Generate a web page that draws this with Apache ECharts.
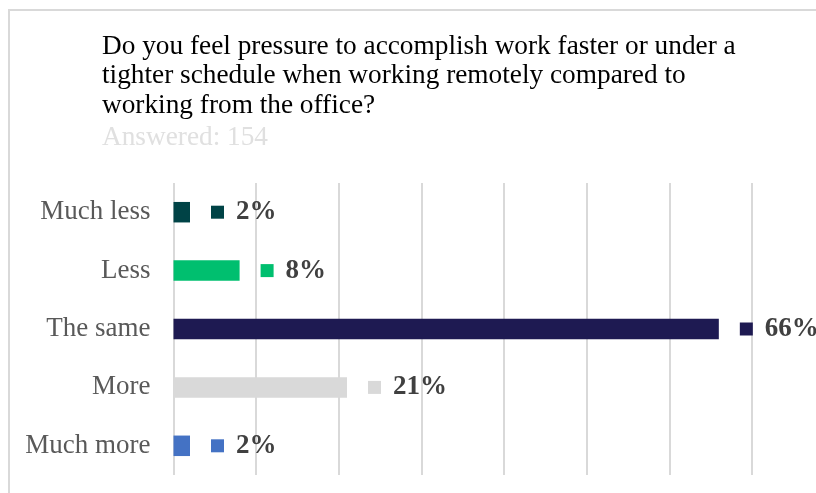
<!DOCTYPE html>
<html>
<head>
<meta charset="utf-8">
<script src="https://cdn.jsdelivr.net/npm/echarts@6/dist/echarts.min.js"></script>
<style>
  html, body { margin: 0; padding: 0; background: #fff; overflow: hidden; }
  /* drawing area runs a little past the right edge of the window */
  #chart { width: 860px; height: 493px; }
</style>
</head>
<body>
<div id="chart"></div>
<script>
// Survey answers, top to bottom
const categories = ['Much less', 'Less', 'The same', 'More', 'Much more'];
const shares = [2, 8, 66, 21, 2];
const barColors = ['#004346', '#00bf6f', '#1e1a52', '#d9d9d9', '#4472c4'];
const xTicks = [0, 10, 20, 30, 40, 50, 60, 70, 80];

const questionText = 'Do you feel pressure to accomplish work faster or under a\ntighter schedule when working remotely compared to\nworking from the office?';
const answeredText = 'Answered: 154';

const serif = '"Liberation Serif", "Times New Roman", serif';

const chart = echarts.init(document.getElementById('chart'), null, { renderer: 'canvas' });

const richLabels = {};
barColors.forEach((c, i) => {
  richLabels['sq' + i] = { backgroundColor: c, width: 13, height: 13 };
});
richLabels.v = {
  fontFamily: serif, fontWeight: 'bold', fontSize: 27, color: '#404040', padding: [0, 0, 0, 12]
};

chart.setOption({
  animation: false,
  backgroundColor: '#ffffff',
  graphic: [
    {
      type: 'polyline',
      shape: { points: [[9, 520], [9, 10], [880, 10]] },
      style: { stroke: '#d9d9d9', lineWidth: 2, fill: null },
      silent: true
    },
    {
      type: 'text',
      left: 102, top: 32,
      style: {
        text: questionText,
        font: '27.3px ' + serif,
        lineHeight: 29.5,
        fill: '#000000'
      }
    },
    {
      type: 'text',
      left: 102, top: 123,
      style: {
        text: answeredText,
        font: '27.3px ' + serif,
        lineHeight: 29.5,
        fill: '#e0e0e0'
      }
    }
  ],
  grid: { left: 173.5, top: 183, width: 661, height: 292, containLabel: false },
  xAxis: {
    type: 'value',
    min: xTicks[0],
    max: xTicks[xTicks.length - 1],
    interval: 10,
    axisLine: { show: false },
    axisTick: { show: false },
    axisLabel: { show: false },
    splitLine: { show: true, lineStyle: { color: '#d9d9d9', width: 2 } }
  },
  yAxis: {
    type: 'category',
    data: categories,
    inverse: true,
    axisLine: { show: false },
    axisTick: { show: false },
    axisLabel: {
      fontFamily: serif, fontSize: 27, color: '#595959', margin: 23
    }
  },
  series: [{
    type: 'bar',
    data: shares.map((v, i) => ({ value: v, itemStyle: { color: barColors[i] } })),
    barWidth: 20.5,
    label: {
      show: true,
      position: 'right',
      distance: 21,
      formatter: p => '{sq' + p.dataIndex + '|}{v|' + p.value + '%}',
      rich: richLabels
    }
  }]
});
</script>
</body>
</html>
